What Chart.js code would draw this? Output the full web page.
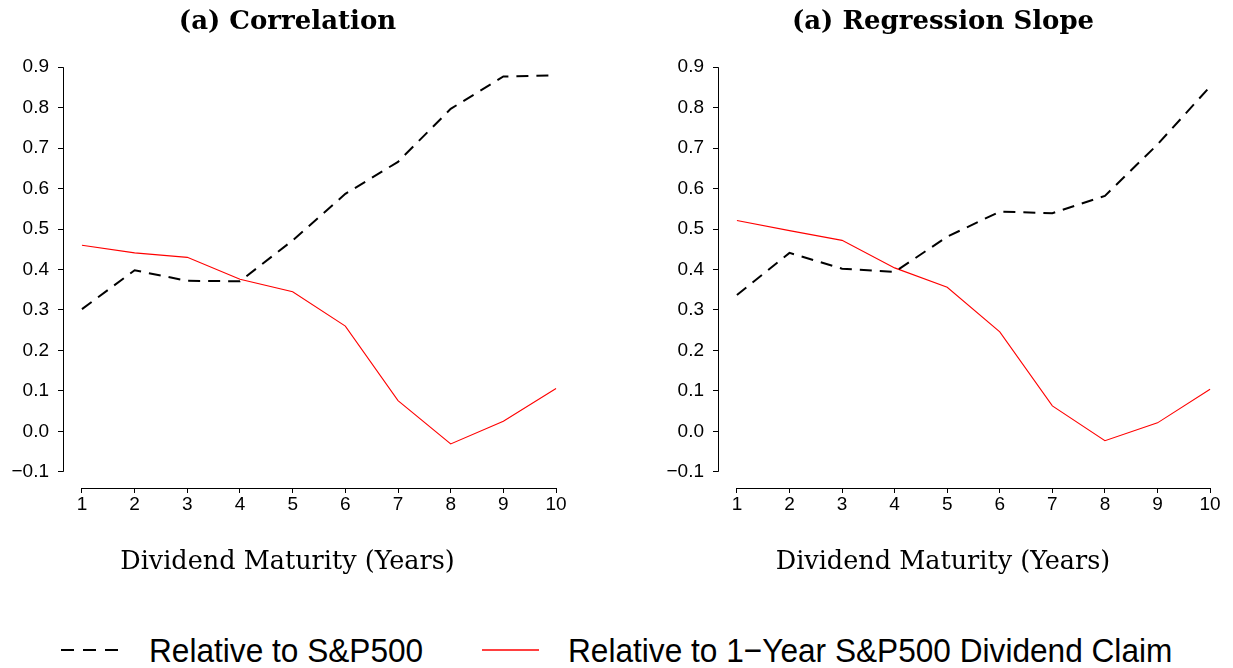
<!DOCTYPE html>
<html>
<head>
<meta charset="utf-8">
<script src="https://cdn.jsdelivr.net/npm/chart.js@4.4.0/dist/chart.umd.min.js"></script>
<style>
  body { margin: 0; background: #fff; width: 1233px; height: 668px; position: relative; overflow: hidden; }
  canvas { position: absolute; top: 0; }
  #legend { position: absolute; top: 627px; left: 0; width: 1233px; height: 46px;
            font-family: "Liberation Sans", Arial, sans-serif; font-size: 34px; color: #000; }
  .item { position: absolute; top: 0; line-height: 46px; white-space: nowrap; }
  .txt { transform: scaleX(0.93); transform-origin: left center; }
  .item svg { position: absolute; top: 0; }
</style>
</head>
<body>
<canvas id="corrChart" width="575" height="590" style="left:0px"></canvas>
<canvas id="slopeChart" width="576" height="590" style="left:657px"></canvas>

<div id="legend">
  <div class="item" style="left:61px;width:60px;height:46px">
    <svg width="60" height="46"><line x1="0" y1="23" x2="58" y2="23" stroke="#000" stroke-width="2" stroke-dasharray="13 9"></line></svg>
  </div>
  <div class="item txt" style="left:149px">Relative to S&amp;P500</div>
  <div class="item" style="left:482px;width:60px;height:46px">
    <svg width="60" height="46"><line x1="0" y1="23" x2="57" y2="23" stroke="#ff0000" stroke-width="1.3"></line></svg>
  </div>
  <div class="item txt" style="left:568px">Relative to 1&#8722;Year S&amp;P500 Dividend Claim</div>
</div>

<script>
// dividend maturity in years
var maturities = [1, 2, 3, 4, 5, 6, 7, 8, 9, 10];
var yTickValues = [-0.1, 0, 0.1, 0.2, 0.3, 0.4, 0.5, 0.6, 0.7, 0.8, 0.9];
var yTickLabels = ['\u22120.1', '0.0', '0.1', '0.2', '0.3', '0.4', '0.5', '0.6', '0.7', '0.8', '0.9'];

// (a) Correlation
var corrSP500 = [0.302, 0.398, 0.372, 0.371, 0.472, 0.587, 0.666, 0.797, 0.877, 0.880];
var corrDiv1 = [0.460, 0.441, 0.430, 0.376, 0.345, 0.260, 0.076, -0.031, 0.025, 0.106];

// (a) Regression Slope
var slopeSP500 = [0.337, 0.441, 0.402, 0.394, 0.481, 0.543, 0.539, 0.582, 0.709, 0.852];
var slopeDiv1 = [0.521, 0.496, 0.472, 0.404, 0.356, 0.246, 0.063, -0.023, 0.021, 0.104];

var tickFont = { family: '"Liberation Sans", Arial, sans-serif', size: 19 };
var serif = '"DejaVu Serif", "Liberation Serif", serif';

function toPoints(values) {
    return maturities.map(function (m, i) { return { x: m, y: values[i] }; });
}

// R style axes: the lines only run from first to last tick
var rAxes = {
    id: 'rAxes',
    afterDraw: function (chart) {
        var ctx = chart.ctx;
        var xs = chart.scales.x;
        var ys = chart.scales.y;
        var left = Math.round(chart.chartArea.left) + 0.5;
        var bottom = Math.round(chart.chartArea.bottom) + 0.5;
        ctx.save();
        ctx.strokeStyle = '#000';
        ctx.lineWidth = 1;
        ctx.beginPath();
        ctx.moveTo(left, ys.getPixelForValue(yTickValues[0]));
        ctx.lineTo(left, ys.getPixelForValue(yTickValues[yTickValues.length - 1]));
        ctx.moveTo(xs.getPixelForValue(maturities[0]), bottom);
        ctx.lineTo(xs.getPixelForValue(maturities[maturities.length - 1]), bottom);
        ctx.stroke();
        ctx.restore();
    }
};

function makeChart(id, title, sp500, div1, yWidth, padRight) {
    var ctx = document.getElementById(id).getContext('2d');
    return new Chart(ctx, {
        type: 'line',
        data: {
            datasets: [
                {
                    label: 'Relative to S&P500',
                    data: toPoints(sp500),
                    borderColor: '#000',
                    borderWidth: 2,
                    borderDash: [12, 8],
                    pointRadius: 0,
                    tension: 0,
                    fill: false
                },
                {
                    label: 'Relative to 1\u2212Year S&P500 Dividend Claim',
                    data: toPoints(div1),
                    borderColor: '#ff0000',
                    borderWidth: 1.1,
                    pointRadius: 0,
                    tension: 0,
                    fill: false
                }
            ]
        },
        options: {
            responsive: false,
            animation: false,
            devicePixelRatio: 1,
            layout: { padding: { left: 0, right: padRight, top: 0, bottom: 0 } },
            plugins: {
                legend: { display: false },
                tooltip: { enabled: false },
                title: {
                    display: true,
                    text: title,
                    color: '#000',
                    font: { family: serif, size: 26, weight: 'bold' },
                    padding: { top: 6.4, bottom: 13.4 }
                },
                subtitle: {
                    display: true,
                    position: 'bottom',
                    text: 'Dividend Maturity (Years)',
                    color: '#000',
                    font: { family: serif, size: 25.5, weight: 'normal' },
                    padding: { top: 0, bottom: 12.4 }
                }
            },
            scales: {
                x: {
                    type: 'linear',
                    min: 0.64,
                    max: 10.36,
                    border: { display: false },
                    grid: { drawOnChartArea: false, drawTicks: true, tickLength: 5, color: '#000', lineWidth: 1 },
                    ticks: {
                        color: '#000', font: tickFont, padding: 0, autoSkip: false, maxRotation: 0,
                        callback: function (v, i) { return String(maturities[i]); }
                    },
                    afterBuildTicks: function (s) {
                        s.ticks = maturities.map(function (v) { return { value: v }; });
                    },
                    afterFit: function (s) {
                        s.height = 59;
                        s.paddingLeft = 0;
                        s.paddingRight = 0;
                    }
                },
                y: {
                    type: 'linear',
                    min: -0.14,
                    max: 0.94,
                    border: { display: false },
                    grid: { drawOnChartArea: false, drawTicks: true, tickLength: 5, color: '#000', lineWidth: 1 },
                    ticks: {
                        color: '#000', font: tickFont, padding: 9, autoSkip: false,
                        callback: function (v, i) { return yTickLabels[i]; }
                    },
                    afterBuildTicks: function (s) {
                        s.ticks = yTickValues.map(function (v) { return { value: v }; });
                    },
                    afterFit: function (s) {
                        s.width = yWidth;
                        s.paddingTop = 0;
                        s.paddingBottom = 0;
                    }
                }
            }
        },
        plugins: [rAxes]
    });
}

makeChart('corrChart', '(a) Correlation', corrSP500, corrDiv1, 63, 0);
makeChart('slopeChart', '(a) Regression Slope', slopeSP500, slopeDiv1, 61, 4);
</script>
</body>
</html>
